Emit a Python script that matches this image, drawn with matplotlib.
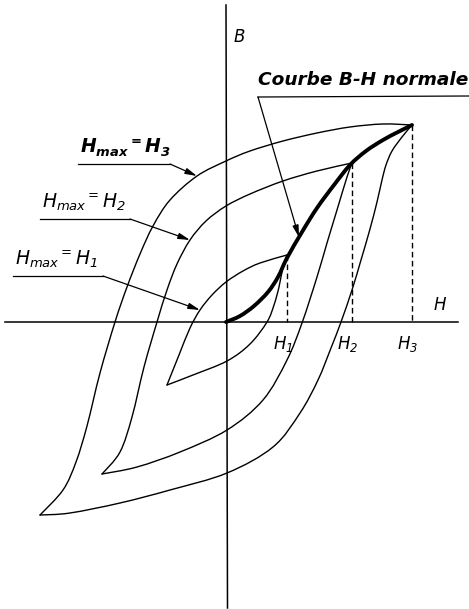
import matplotlib
matplotlib.use("Agg")
import matplotlib.pyplot as plt
import numpy as np
from matplotlib.path import Path
from matplotlib.patches import PathPatch

plt.rcParams["mathtext.fontset"] = "custom"
plt.rcParams["mathtext.it"] = "DejaVu Sans:italic"
plt.rcParams["mathtext.rm"] = "DejaVu Sans:italic"
plt.rcParams["mathtext.bf"] = "DejaVu Sans:italic:bold"

# hysteresis loops, H horizontal / B vertical (arbitrary units, origin at 0)
# each loop: descending branch (tip -> negative tip) and ascending branch back
H3_DOWN_H = [186, 157, 124, 91, 57, 24, 0, -29, -56, -73, -86, -99, -111, -126, -139, -150, -163, -186]
H3_DOWN_B = [197, 198, 195, 189, 181, 171, 161, 146, 122, 96, 68, 35, 0, -51, -104, -140, -168, -193]
H3_UP_H = [-186, -156, -106, -56, 1, 47, 74, 92, 105, 115, 126, 135, 144, 151, 156, 160, 166, 176, 186]
H3_UP_B = [-193, -191, -181, -168, -151, -125, -91, -58, -26, 0, 32, 62, 93, 120, 142, 157, 171, 185, 197]

H2_DOWN_H = [126, 91, 57, 24, 0, -20, -36, -49, -59, -69, -82, -94, -106, -124]
H2_DOWN_B = [159, 151, 141, 128, 116, 101, 82, 58, 32, 0, -45, -95, -130, -152]
H2_UP_H = [-124, -89, -46, 1, 37, 61, 76, 91, 101, 111, 121, 126]
H2_UP_B = [-152, -145, -130, -108, -78, -38, -1, 45, 79, 112, 145, 159]

H1_DOWN_H = [61, 34, 17, 0, -14, -26, -36, -47, -59]
H1_DOWN_B = [67, 59, 51, 40, 27, 12, -6, -33, -63]
H1_UP_H = [-59, -33, 1, 24, 41, 48, 53, 57, 61]
H1_UP_B = [-63, -53, -39, -22, 0, 17, 35, 55, 67]

# normal magnetisation curve through the loop tips
NORMAL_H = [0, 14, 28, 42, 52, 61, 76, 91, 108, 124, 140, 157, 172, 186]
NORMAL_B = [0, 6, 16, 30, 45, 64, 90, 114, 137, 157, 171, 182, 190, 197]

H_MAX = [61, 126, 186]
B_MAX = [67, 159, 197]
TICK_LABELS = [r"$H_1$", r"$H_2$", r"$H_3$"]


def smooth_path(h, b):
    # Catmull-Rom through the points, written as cubic Bezier segments
    p = np.column_stack([h, b]).astype(float)
    ext = np.vstack([p[0], p, p[-1]])
    verts = [p[0]]
    codes = [Path.MOVETO]
    for i in range(1, len(ext) - 2):
        c1 = ext[i] + (ext[i + 1] - ext[i - 1]) / 6
        c2 = ext[i + 1] - (ext[i + 2] - ext[i]) / 6
        verts += [c1, c2, ext[i + 1]]
        codes += [Path.CURVE4] * 3
    return Path(verts, codes)


def draw_curve(ax, h, b, lw=1.0):
    ax.add_patch(PathPatch(smooth_path(h, b), fill=False, lw=lw, color="black",
                           capstyle="round", joinstyle="round"))


fig = plt.figure(figsize=(4.69, 6.09), dpi=100)
ax = fig.add_axes([0, 0, 1, 1])
ax.set_xlim(-226, 243)
ax.set_ylim(-287, 322)
ax.axis("off")

# axes
ax.plot([-221, 232], [0, 0], color="black", lw=1.1)
ax.plot([0, 1.5], [317, -286], color="black", lw=1.1)

for dh, db, uh, ub in [(H3_DOWN_H, H3_DOWN_B, H3_UP_H, H3_UP_B),
                       (H2_DOWN_H, H2_DOWN_B, H2_UP_H, H2_UP_B),
                       (H1_DOWN_H, H1_DOWN_B, H1_UP_H, H1_UP_B)]:
    draw_curve(ax, dh, db)
    draw_curve(ax, uh, ub)

draw_curve(ax, NORMAL_H, NORMAL_B, lw=2.8)

for hm, bm, lab in zip(H_MAX, B_MAX, TICK_LABELS):
    ax.plot([hm, hm], [bm, 0], color="black", lw=1.0, ls=(0, (4, 2.5)))
    ax.text(hm - 4, -12, lab, fontsize=12, ha="center", va="top")

ax.text(7, 285, r"$B$", fontsize=12, ha="left", va="center")
ax.text(207, 17, r"$H$", fontsize=12, ha="left", va="center")

arrow = dict(arrowstyle="-|>,head_length=0.7,head_width=0.18", color="black",
             lw=0.9, shrinkA=0, shrinkB=0)

# labels of the three loops, each underlined with a leader arrow
loop_labels = [
    (r"$\mathbf{H_{max}{}^{=}H_3}$", -148, 158, -56, (H3_DOWN_H[7], H3_DOWN_B[7])),
    (r"$H_{max}{}^{=}H_2$", -186, 103, -96, (H2_DOWN_H[6], H2_DOWN_B[6])),
    (r"$H_{max}{}^{=}H_1$", -213, 46, -123, (H1_DOWN_H[5], H1_DOWN_B[5])),
]
for text, x0, y0, x1, tip in loop_labels:
    ax.text(x0 + 2, y0 + 6, text, fontsize=13.5, ha="left", va="bottom")
    ax.plot([x0, x1], [y0, y0], color="black", lw=0.9)
    ax.annotate("", xy=tip, xytext=(x1, y0), arrowprops=arrow)

# normal curve label
ax.text(32, 233, "Courbe B-H normale", fontsize=13.3, fontstyle="italic",
        fontweight="bold", ha="left", va="bottom")
ax.plot([32, 243], [225, 226], color="black", lw=0.9)
tip_h = 73
ax.annotate("", xy=(tip_h, np.interp(tip_h, NORMAL_H, NORMAL_B)), xytext=(32, 225),
            arrowprops=arrow)

fig.savefig("out.png", dpi=100)
